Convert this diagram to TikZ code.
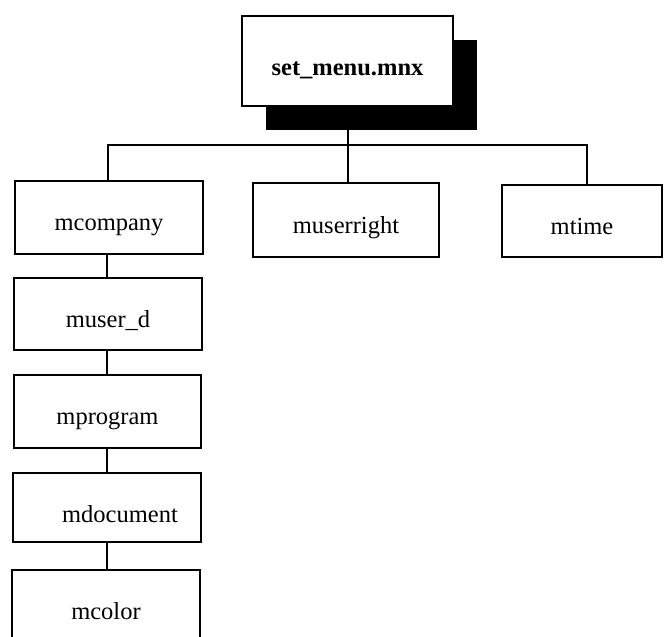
\documentclass[tikz,border=0pt]{standalone}
\usepackage{fontspec}
\setmainfont{Liberation Serif}
\begin{document}
\begin{tikzpicture}[x=1pt,y=-1pt,
  menubox/.style={draw=black, fill=white, line width=2.3pt, rectangle,
    inner sep=0pt, text height=26pt, text depth=0pt,
    font=\fontsize{24.5}{28}\selectfont},
  link/.style={draw=black, line width=2pt}]
  \useasboundingbox (0,0) rectangle (665,637);
  \clip (0,0) rectangle (665,637);
  \fill[white] (0,0) rectangle (665,637);

  % root menu with drop shadow
  \coordinate (shadowA) at (266,40);
  \coordinate (shadowB) at (477,130);
  \fill[black] (shadowA) rectangle (shadowB);
  \node[menubox, minimum width=211pt, minimum height=90pt, text height=28pt,
        font=\fontsize{24.5}{28}\selectfont\bfseries] (top) at (347.5,61) {set\_menu.mnx};

  % first level
  \node[menubox, minimum width=188pt, minimum height=73pt] (mcompany) at (109,217.5) {mcompany};
  \node[menubox, minimum width=186pt, minimum height=74pt] (museright) at (346,220) {muserright};
  \node[menubox, minimum width=160pt, minimum height=72pt] (mtime) at (582,221) {mtime};

  % chain below mcompany
  \node[menubox, minimum width=188pt, minimum height=72pt] (muserd) at (108,314) {muser\_d};
  \node[menubox, minimum width=187pt, minimum height=73pt] (mprogram) at (107.5,411.5) {mprogram};
  \node[menubox, minimum width=188pt, minimum height=69pt, text height=29pt] (mdocument) at (107,507.5) {\hspace*{26pt}mdocument};
  \node[menubox, minimum width=188pt, minimum height=72pt] (mcolor) at (106,606) {mcolor};

  % bus connecting the first level
  \coordinate (busL) at (108,145);
  \coordinate (busR) at (587,145);
  \draw[link] (busL |- mcompany.north) -- (busL) -- (busR) -- (busR |- mtime.north);
  \draw[link] (top.south |- shadowB) -- (top.south |- museright.north);

  % vertical chain
  \coordinate (chain) at (107,0);
  \draw[link] (chain |- mcompany.south) -- (chain |- muserd.north);
  \draw[link] (chain |- muserd.south) -- (chain |- mprogram.north);
  \draw[link] (chain |- mprogram.south) -- (chain |- mdocument.north);
  \draw[link] (chain |- mdocument.south) -- (chain |- mcolor.north);
\end{tikzpicture}
\end{document}
